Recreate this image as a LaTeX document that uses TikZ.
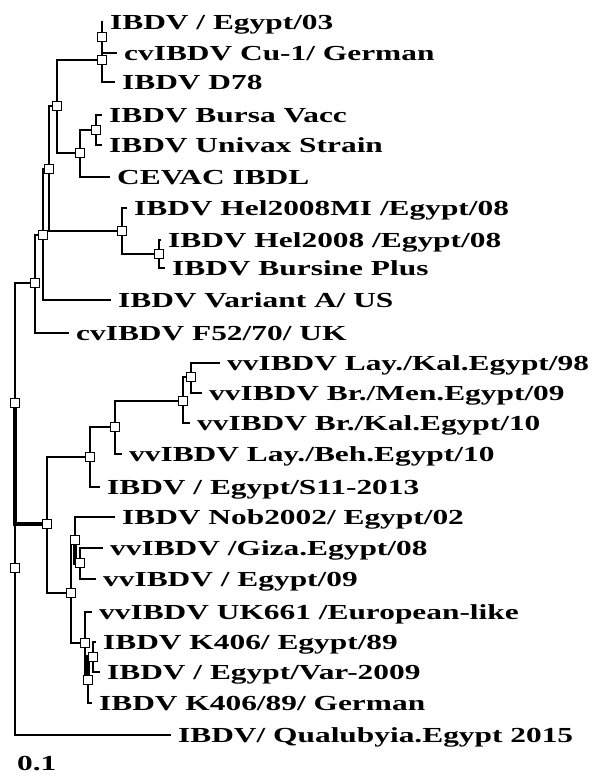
\documentclass[tikz,border=0pt]{standalone}
\usepackage{fontspec}
\newfontfamily\taxonfont[FakeStretch=1.465]{Liberation Serif}
\usetikzlibrary{positioning,backgrounds}
\tikzset{
  branch/.style={line width=2.2bp},
  heavybranch/.style={line width=4bp},
  splitbox/.style={draw,fill=white,line width=1.2bp,minimum size=8.5bp,inner sep=0pt},
  taxon/.style={font={\taxonfont\fontsize{21.5}{21.5}\selectfont\bfseries},inner sep=0pt,
    text height=15bp,text depth=0pt,anchor=west}
}

\begin{document}
\begin{tikzpicture}[x=1bp,y=-1bp]
  \useasboundingbox (0,0) rectangle (595,776);

  % Leaf tips
  \coordinate (t1) at (103,22);
  \coordinate (t2) at (117,53);
  \coordinate (t3) at (115,82);
  \coordinate (t4) at (102,115);
  \coordinate (t5) at (102,145);
  \coordinate (t6) at (110,177);
  \coordinate (t7) at (127,208);
  \coordinate (t8) at (161,240);
  \coordinate (t9) at (165,268);
  \coordinate (t10) at (111,300);
  \coordinate (t11) at (69,333);
  \coordinate (t12) at (220,363);
  \coordinate (t13) at (202,393);
  \coordinate (t14) at (190,423);
  \coordinate (t15) at (122,454);
  \coordinate (t16) at (100,487);
  \coordinate (t17) at (115,517);
  \coordinate (t18) at (103,548);
  \coordinate (t19) at (96,579);
  \coordinate (t20) at (92,612);
  \coordinate (t21) at (96,642);
  \coordinate (t22) at (100,672);
  \coordinate (t23) at (92,703);
  \coordinate (t24) at (171,735);

  % Taxon names
  \node[taxon,right=7bp of t1] (l1) {IBDV / Egypt/03};
  \node[taxon,right=7bp of t2] (l2) {cvIBDV Cu-1/ German};
  \node[taxon,right=7bp of t3] (l3) {IBDV D78};
  \node[taxon,right=7bp of t4] (l4) {IBDV Bursa Vacc};
  \node[taxon,right=7bp of t5] (l5) {IBDV Univax Strain};
  \node[taxon,right=7bp of t6] (l6) {CEVAC IBDL};
  \node[taxon,right=7bp of t7] (l7) {IBDV Hel2008MI /Egypt/08};
  \node[taxon,right=7bp of t8] (l8) {IBDV Hel2008 /Egypt/08};
  \node[taxon,right=7bp of t9] (l9) {IBDV Bursine Plus};
  \node[taxon,right=7bp of t10] (l10) {IBDV Variant A/ US};
  \node[taxon,right=7bp of t11] (l11) {cvIBDV F52/70/ UK};
  \node[taxon,right=7bp of t12] (l12) {vvIBDV Lay./Kal.Egypt/98};
  \node[taxon,right=7bp of t13] (l13) {vvIBDV Br./Men.Egypt/09};
  \node[taxon,right=7bp of t14] (l14) {vvIBDV Br./Kal.Egypt/10};
  \node[taxon,right=7bp of t15] (l15) {vvIBDV Lay./Beh.Egypt/10};
  \node[taxon,right=7bp of t16] (l16) {IBDV / Egypt/S11-2013};
  \node[taxon,right=7bp of t17] (l17) {IBDV Nob2002/ Egypt/02};
  \node[taxon,right=7bp of t18] (l18) {vvIBDV /Giza.Egypt/08};
  \node[taxon,right=7bp of t19] (l19) {vvIBDV / Egypt/09};
  \node[taxon,right=7bp of t20] (l20) {vvIBDV UK661 /European-like};
  \node[taxon,right=7bp of t21] (l21) {IBDV K406/ Egypt/89};
  \node[taxon,right=7bp of t22] (l22) {IBDV / Egypt/Var-2009};
  \node[taxon,right=7bp of t23] (l23) {IBDV K406/89/ German};
  \node[taxon,right=7bp of t24] (l24) {IBDV/ Qualubyia.Egypt 2015};

  % Split nodes
  \node[splitbox] (n1) at (102,37) {};
  \node[splitbox] (n2) at (102,60) {};
  \node[splitbox] (n3) at (96,130) {};
  \node[splitbox] (n4) at (80,153) {};
  \node[splitbox] (n5) at (57,106) {};
  \node[splitbox] (n6) at (159,254) {};
  \node[splitbox] (n7) at (122,231) {};
  \node[splitbox] (n8) at (49,169) {};
  \node[splitbox] (n9) at (43,235) {};
  \node[splitbox] (n10) at (35,283) {};
  \node[splitbox] (n11) at (191,377) {};
  \node[splitbox] (n12) at (183,401) {};
  \node[splitbox] (n13) at (115,427) {};
  \node[splitbox] (n14) at (90,457) {};
  \node[splitbox] (n15) at (80,563) {};
  \node[splitbox] (n16) at (75,540) {};
  \node[splitbox] (n17) at (93,657) {};
  \node[splitbox] (n18) at (88,680) {};
  \node[splitbox] (n19) at (85,643) {};
  \node[splitbox] (n20) at (71,593) {};
  \node[splitbox] (n21) at (47,524) {};
  \node[splitbox] (n22) at (15,403) {};
  \node[splitbox] (n23) at (15,568) {};

  % Branches
  \begin{scope}[on background layer]
    \foreach \p/\c in {n1/t1,n1/t2,n2/n1,n2/t3,n3/t4,n3/t5,n4/n3,n4/t6,
                       n5/n2,n5/n4,n6/t8,n6/t9,n7/t7,n7/n6,n8/n5,n8/n7,
                       n9/n8,n9/t10,n10/n9,n10/t11,n11/t12,n11/t13,n12/n11,
                       n12/t14,n13/n12,n13/t15,n14/n13,n14/t16,n15/t18,n15/t19,
                       n16/t17,n17/t21,n17/t22,n18/t23,n19/t20,n19/n18,
                       n20/n16,n20/n19,n21/n14,n21/n20,n22/n10,n23/n22,n23/t24}
      \draw[branch] (\p.center) |- (\c.center);
    % overlapping short branches
    \draw[heavybranch] (n16.center) |- (n15.center);
    \draw[heavybranch] (n18.center) |- (n17.center);
    \draw[heavybranch] (n22.center) |- (n21.center);
  \end{scope}

  % Scale
  \node[taxon] (scale) at (17,763) {0.1};
\end{tikzpicture}
\end{document}
